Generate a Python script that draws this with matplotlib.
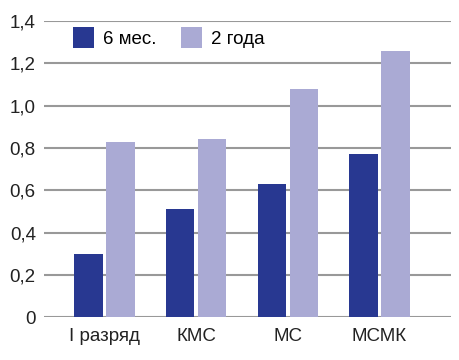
import matplotlib.pyplot as plt
import numpy as np

plt.rcParams['font.family'] = ['Liberation Sans', 'DejaVu Sans']

categories = ['I разряд', 'КМС', 'МС', 'МСМК']
six_months = [0.30, 0.51, 0.63, 0.77]
two_years = [0.83, 0.84, 1.08, 1.26]
yticks = [0, 0.2, 0.4, 0.6, 0.8, 1.0, 1.2, 1.4]
ytick_labels = ['0', '0,2', '0,4', '0,6', '0,8', '1,0', '1,2', '1,4']

fig = plt.figure(figsize=(4.6, 3.6), dpi=100)
ax = fig.add_axes([0.096, 0.119, 0.884, 0.823])

x = np.arange(len(categories))
w = 0.31
ax.bar(x - w/2 - 0.02, six_months, w, color='#283891', label='6 мес.', zorder=3)
ax.bar(x + w/2 + 0.02, two_years, w, color='#aaaad4', label='2 года', zorder=3)

ax.set_xlim(-0.66, 3.78)
ax.set_ylim(0, 1.4)
ax.set_yticks(yticks)
ax.set_yticklabels(ytick_labels)
ax.set_xticks(x)
ax.set_xticklabels(categories)
ax.yaxis.grid(True, color='#999999', linewidth=1.5, zorder=0)
ax.tick_params(length=0, labelsize=13.5, colors='#222222')
ax.tick_params(axis='y', pad=6)
ax.tick_params(axis='x', pad=8)
for s in ax.spines.values():
    s.set_visible(False)

ax.legend(loc='upper left', bbox_to_anchor=(0.03, 1.035), ncol=2, frameon=False,
          fontsize=13.5, handlelength=1.1, handleheight=1.3, columnspacing=1.3,
          handletextpad=0.5)

fig.savefig('out.png')
